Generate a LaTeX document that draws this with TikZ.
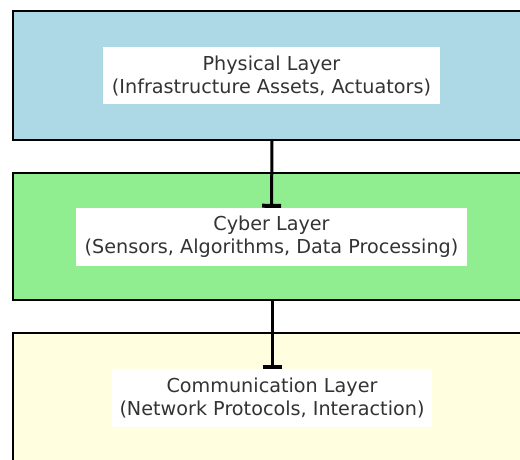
\documentclass[tikz,border=0pt]{standalone}
\usepackage{fontspec}
\setmainfont{DejaVu Sans}
\usetikzlibrary{arrows.meta}
\definecolor{lblue}{HTML}{ADD8E6}
\definecolor{lgreen}{HTML}{90EE90}
\definecolor{lyellow}{HTML}{FFFFE0}
\definecolor{txt}{HTML}{333333}
\begin{document}
\begin{tikzpicture}[x=1pt,y=-1pt,
  layer/.style={draw=black,line width=1.8pt,minimum width=518pt,inner sep=0pt},
  label/.style={fill=white,text=txt,align=center,font=\fontsize{19.2}{23}\selectfont,inner sep=0pt},
  tee/.style={line width=3pt,-{Bar[width=19pt,line width=4pt]}}]
\useasboundingbox (0,0) rectangle (520,460);
\clip (0,0) rectangle (520,460);
\node[layer,fill=lblue,minimum height=129pt] (phys) at (272,75.5) {};
\node[layer,fill=lgreen,minimum height=127pt] (cyb) at (272,236.5) {};
\node[layer,fill=lyellow,minimum height=140pt] (com) at (272,403) {};
\node[label,minimum width=337pt,minimum height=57pt] (physt) at (271.5,75.5) {Physical Layer\\(Infrastructure Assets, Actuators)};
\node[label,minimum width=391pt,minimum height=58pt] (cybt) at (271.5,237) {Cyber Layer\\(Sensors, Algorithms, Data Processing)};
\node[label,minimum width=320pt,minimum height=58pt] (comt) at (272,398) {Communication Layer\\(Network Protocols, Interaction)};
\draw[tee] (phys.south) -- (cybt.north);
\draw[tee] (cyb.south) -- (comt.north);
\end{tikzpicture}
\end{document}
